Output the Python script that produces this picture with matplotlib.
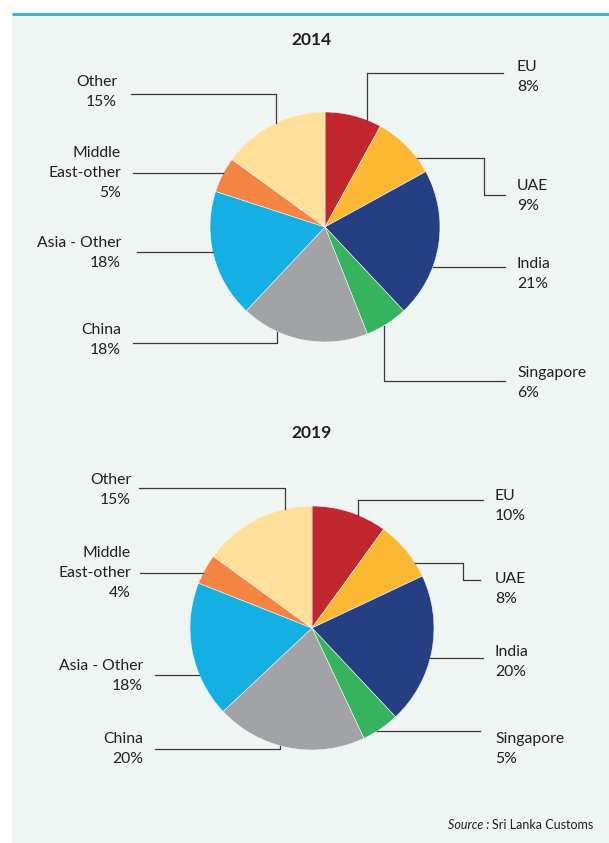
import numpy as np
import matplotlib.pyplot as plt
from matplotlib.patches import Rectangle

W, H = 609, 843

countries = ["EU", "UAE", "India", "Singapore", "China", "Asia - Other", "Middle\nEast-other", "Other"]
share_2014 = [8, 9, 21, 6, 18, 18, 5, 15]
share_2019 = [10, 8, 20, 5, 20, 18, 4, 15]
colors = ["#C1272D", "#FDB833", "#253F82", "#35B45D", "#A2A3A7", "#15B0E3", "#F58442", "#FEE09A"]

ink = "#231F20"
font = ["Lato", "DejaVu Sans"]

fig = plt.figure(figsize=(W / 100, H / 100), dpi=100)
fig.patch.set_facecolor("white")
ax = fig.add_axes([0, 0, 1, 1])
ax.set_xlim(0, W)
ax.set_ylim(0, H)
ax.axis("off")


def up(y):
    return H - y


# panel + teal rule
ax.add_patch(Rectangle((12, 0), W - 12, up(14), facecolor="#EFF5F3", edgecolor="none", zorder=0))
ax.plot([12, W], [up(13.5), up(13.5)], color="#45B8C7", lw=2.2, solid_capstyle="butt", zorder=1)

# leader layouts: (kind, level, path points after anchor, text x, text y, side)
# kind 'h' = horizontal from circle at y=level, 'vt'/'vb' = vertical from top/bottom at x=level
layout_2014 = [
    ("vt", 367, [(367, 73), (503, 73)], 517, 77, "l"),
    ("h", 158, [(484, 158), (484, 195), (505, 195)], 517, 196, "l"),
    ("h", 267, [(505, 267)], 517, 274, "l"),
    ("vb", 384, [(384, 381), (505, 381)], 517, 383, "l"),
    ("vb", 277, [(277, 343), (133, 343)], 121, 340, "r"),
    ("h", 252, [(137, 252)], 121, 253, "r"),
    ("h", 173, [(133, 173)], 121, 173, "r"),
    ("vt", 276, [(276, 94), (131, 94)], 117, 92, "r"),
]
layout_2019 = [
    ("vt", 358, [(358, 500), (483, 500)], 495, 506, "l"),
    ("h", 563, [(463, 563), (463, 580), (480, 580)], 495, 589, "l"),
    ("h", 658, [(483, 658)], 495, 662, "l"),
    ("h", 731, [(480, 731)], 495, 749, "l"),
    ("vb", 280, [(280, 749), (155, 749)], 143, 749, "r"),
    ("h", 675, [(155, 675)], 143, 676, "r"),
    ("h", 573, [(140, 573)], 131, 573, "r"),
    ("vt", 285, [(285, 488), (139, 488)], 131, 490, "r"),
]


def draw_pie(values, year, cx, cy, r, layout, title_y):
    ax.pie(values, colors=colors, startangle=90, counterclock=False,
           center=(cx, up(cy)), radius=r, frame=True,
           wedgeprops=dict(edgecolor="#F4F7F6", linewidth=0.4))
    ax.text(311, up(title_y), year, ha="center", va="center", fontsize=12.5,
            fontweight="bold", color=ink, family=font)
    for name, val, (kind, lev, pts, tx, ty, side) in zip(countries, values, layout):
        if kind == "h":
            dx = np.sqrt(r ** 2 - (lev - cy) ** 2)
            start = (cx + dx if side == "l" else cx - dx, lev)
        else:
            dy = np.sqrt(r ** 2 - (lev - cx) ** 2)
            start = (lev, cy - dy if kind == "vt" else cy + dy)
        path = [start] + pts
        ax.plot([p[0] for p in path], [up(p[1]) for p in path], color="#3A3A3A",
                lw=0.9, zorder=3)
        ax.text(tx, up(ty), f"{name}\n{val}%", ha="left" if side == "l" else "right",
                va="center", ma="left" if side == "l" else "right", fontsize=11.3,
                color=ink, family=font, linespacing=1.55)


draw_pie(share_2014, "2014", 325, 227, 115, layout_2014, 40)
draw_pie(share_2019, "2019", 312, 628, 122, layout_2019, 433)

ax.set_xlim(0, W)
ax.set_ylim(0, H)

t = ax.text(593, up(825), "Sri Lanka Customs", ha="right", va="center", fontsize=9.0,
            color=ink, family=font)
ax.annotate("Source : ", xy=(0, 0.5), xycoords=t, ha="right", va="center",
            fontsize=9.0, color=ink, family=font, style="italic")

fig.savefig("out.png", dpi=100, facecolor=fig.get_facecolor())
